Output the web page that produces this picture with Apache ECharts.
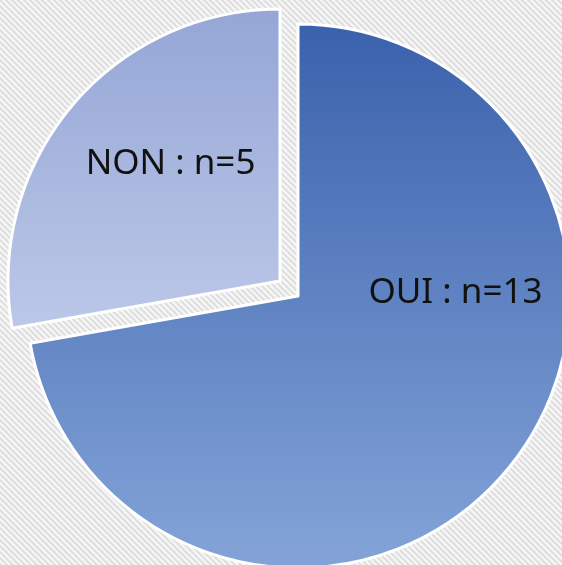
<!DOCTYPE html>
<html>
<head>
<meta charset="utf-8">
<script src="https://cdn.jsdelivr.net/npm/echarts@6/dist/echarts.min.js"></script>
<style>
  html, body { margin: 0; padding: 0; }
  #chart { width: 562px; height: 565px; }
</style>
</head>
<body>
<div id="chart"></div>
<script>
const categories = ['OUI', 'NON']
const counts = [13, 5]

// diagonal hatching used behind the pie
const makeHatch = () => {
  const c = document.createElement('canvas')
  c.width = 6
  c.height = 6
  const ctx = c.getContext('2d')
  ctx.fillStyle = '#f7f7f7'
  ctx.fillRect(0, 0, 6, 6)
  ctx.strokeStyle = '#dedede'
  ctx.lineWidth = 2
  ctx.beginPath()
  ctx.moveTo(-1, -1); ctx.lineTo(7, 7)
  ctx.moveTo(-7, -1); ctx.lineTo(1, 7)
  ctx.moveTo(5, -1); ctx.lineTo(13, 7)
  ctx.stroke()
  return c
}

const gradient = (top, bottom) => ({
  type: 'linear', x: 0, y: 0, x2: 0, y2: 1,
  colorStops: [
    { offset: 0, color: top },
    { offset: 1, color: bottom }
  ]
})

const fills = [gradient('#3a61ac', '#84a4d8'), gradient('#95a6d6', '#bcc8e8')]
// label nudges from the default "inside" spot
const labelOffsets = [[51, -92], [-3, -28]]
// the NON slice is pulled out: drawn by a second series with a shifted center
const centers = [[298, 296], [280, 281]]

const hidden = {
  itemStyle: { color: 'transparent', borderColor: 'transparent' },
  label: { show: false }
}

const pieSeries = k => ({
  type: 'pie',
  center: centers[k],
  radius: [0, 272],
  startAngle: 90,
  clockwise: true,
  silent: true,
  emphasis: { disabled: true },
  itemStyle: { borderColor: '#ffffff', borderWidth: 3 },
  label: {
    show: true,
    position: 'inside',
    formatter: p => p.name + ' : n=' + p.value,
    color: '#111111',
    fontFamily: 'Noto Sans',
    fontSize: 35
  },
  labelLine: { show: false },
  data: categories.map((name, i) => Object.assign(
    { name, value: counts[i] },
    i === k
      ? { itemStyle: { color: fills[i] }, label: { offset: labelOffsets[i] } }
      : hidden
  ))
})

const chart = echarts.init(document.getElementById('chart'))
chart.setOption({
  animation: false,
  backgroundColor: { image: makeHatch(), repeat: 'repeat' },
  series: [pieSeries(0), pieSeries(1)]
})
</script>
</body>
</html>
